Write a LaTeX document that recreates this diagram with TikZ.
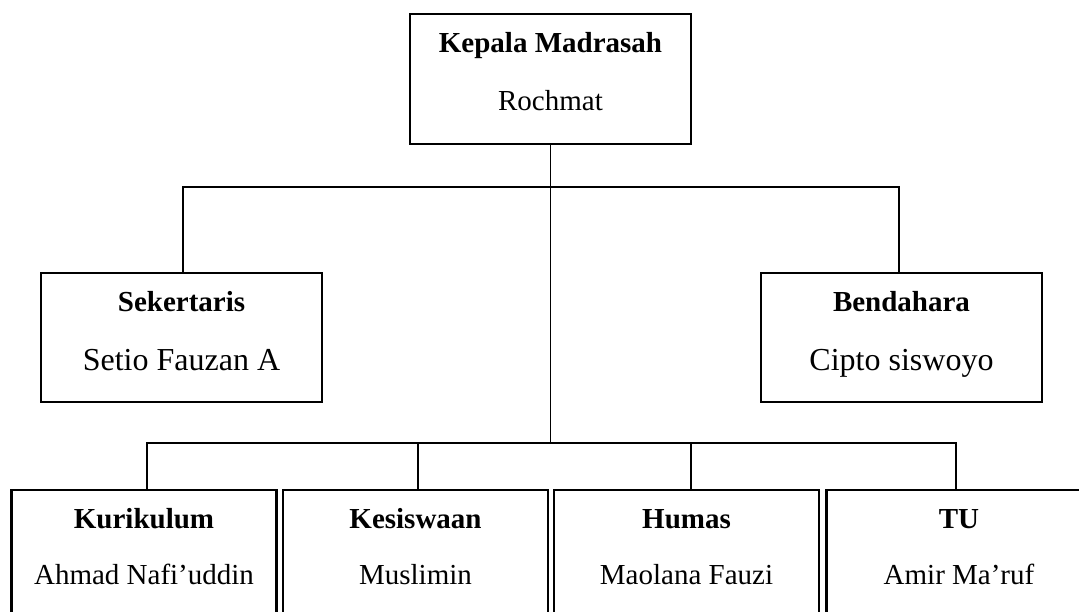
\documentclass[tikz,border=0pt]{standalone}
\usepackage{fontspec}
\setmainfont{Liberation Serif}
\begin{document}
\begin{tikzpicture}[x=1pt, y=1pt,
        box/.style={draw, line width=2.5pt, rectangle, outer sep=0pt, inner sep=0pt},
        title/.style={anchor=base, font=\fontsize{29}{34}\selectfont\bfseries},
        person/.style={anchor=base, font=\fontsize{29}{34}\selectfont},
        link/.style={line width=1.2pt}]
        \clip (0,0) rectangle (1079,611);

        % Head of the madrasah
        \node[box, minimum width=281pt, minimum height=130pt] (kepala) at (550.5,532) {};
        \node[title] (kepalaT) at ([yshift=-39pt]kepala.north) {Kepala Madrasah};
        \node[person] (kepalaN) at ([yshift=-97pt]kepala.north) {Rochmat};

        % Secretary and treasurer
        \foreach \id/\x/\jabatan/\nama in {
            sek/181.5/Sekertaris/Setio Fauzan A,
            bend/901.5/Bendahara/Cipto siswoyo
        } {
            \node[box, minimum width=281pt, minimum height=129pt] (\id) at (\x,273.5) {};
            \node[title] (\id T) at ([yshift=-39pt]\id.north) {\jabatan};
            \node[person, font=\fontsize{32}{38}\selectfont] (\id N) at ([yshift=-98pt]\id.north) {\nama};
        }

        % Lower units
        \foreach \id/\x/\jabatan/\nama in {
            kur/144/Kurikulum/Ahmad Nafi’uddin,
            kes/415.5/Kesiswaan/Muslimin,
            hum/686.5/Humas/Maolana Fauzi,
            tu/959/TU/Amir Ma’ruf
        } {
            \node[box, minimum width=265pt, minimum height=136pt] (\id) at (\x,53) {};
            \node[title] (\id T) at ([yshift=-38pt]\id.north) {\jabatan};
            \node[person] (\id N) at ([yshift=-94pt]\id.north) {\nama};
        }

        % Connectors
        \coordinate (topbus) at (550.5,424);
        \coordinate (lowbus) at (550.5,168);
        \draw[link] (kepala.south) -- (lowbus);
        \draw[link] ([xshift=1.5pt]sek.north) |- (topbus) -| ([xshift=-2.5pt]bend.north);
        \draw[link] ([xshift=3pt]kur.north) |- (lowbus) -| ([xshift=-3pt]tu.north);
        \draw[link] ([xshift=2.5pt]kes.north) -- ([xshift=2.5pt]kes.north |- lowbus);
        \draw[link] ([xshift=4.5pt]hum.north) -- ([xshift=4.5pt]hum.north |- lowbus);
    \end{tikzpicture}
\end{document}
